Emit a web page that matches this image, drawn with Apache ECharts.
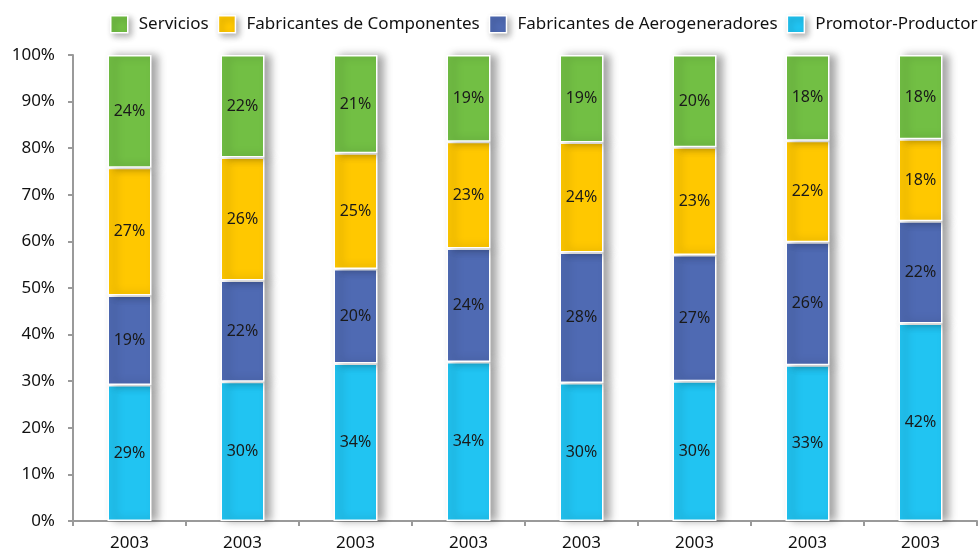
<!DOCTYPE html>
<html>
<head>
<meta charset="utf-8">
<script src="https://cdn.jsdelivr.net/npm/echarts@6/dist/echarts.min.js"></script>
<style>html,body{margin:0;padding:0;background:#fff;}#c{width:979px;height:552px;}</style>
</head>
<body>
<div id="c"></div>
<script>
var categories = ['2003','2003','2003','2003','2003','2003','2003','2003'];
var seriesNames = ['Servicios','Fabricantes de Componentes','Fabricantes de Aerogeneradores','Promotor-Productor'];
var promotor = [29.2, 29.9, 33.8, 34.1, 29.6, 30.0, 33.4, 42.4];
var aerogeneradores = [19.2, 21.7, 20.3, 24.4, 28.0, 27.1, 26.4, 21.9];
var componentes = [27.4, 26.4, 24.8, 22.9, 23.6, 23.1, 21.8, 17.6];
var servicios = [24.2, 22.0, 21.1, 18.6, 18.8, 19.8, 18.4, 18.1];
var yTicks = [0,10,20,30,40,50,60,70,80,90,100];

var FONT = '"Noto Sans", sans-serif';
var chart = echarts.init(document.getElementById('c'));
function mk(name, data, color) {
  return {
    name: name, type: 'bar', stack: 'total', data: data, barWidth: 44,
    itemStyle: { color: color, borderColor: '#ffffff', borderWidth: 1.5,
      shadowBlur: 8, shadowOffsetX: 6, shadowOffsetY: 0, shadowColor: 'rgba(0,0,0,0.35)' },
    label: { show: true, position: 'inside', color: '#1a1a1a', fontSize: 16, fontFamily: FONT,
      formatter: function (p) { return Math.round(p.value) + '%'; } },
    emphasis: { disabled: true }
  };
}
chart.setOption({
  animation: false,
  backgroundColor: '#ffffff',
  legend: {
    data: seriesNames, top: 15, left: 110, width: 1000, itemWidth: 17, itemHeight: 17, itemGap: 9,
    icon: 'rect', padding: 0,
    textStyle: { fontSize: 17, fontFamily: FONT, color: '#111', padding: [0, 0, 0, 6] },
    itemStyle: { borderColor: '#fff', borderWidth: 1.5, shadowBlur: 6, shadowOffsetX: 3, shadowOffsetY: 3, shadowColor: 'rgba(0,0,0,0.3)' }
  },
  grid: { left: 73, right: 2, top: 55, bottom: 31, containLabel: false },
  xAxis: {
    type: 'category', data: categories,
    axisLine: { lineStyle: { color: '#9a9a9a', width: 2 } },
    axisTick: { show: true, length: 5, lineStyle: { color: '#9a9a9a', width: 2 } },
    axisLabel: { fontSize: 17, fontFamily: FONT, color: '#111', margin: 14 }
  },
  yAxis: {
    type: 'value', min: 0, max: 100, interval: 10,
    axisLine: { show: true, lineStyle: { color: '#9a9a9a', width: 2 } },
    axisTick: { show: true, length: 5, lineStyle: { color: '#9a9a9a', width: 2 } },
    splitLine: { show: false },
    axisLabel: { fontSize: 17, fontFamily: FONT, color: '#111', margin: 18,
      formatter: function (v) { return yTicks.indexOf(v) >= 0 ? v + '%' : ''; } }
  },
  series: [
    mk(seriesNames[3], promotor, '#21C4F2'),
    mk(seriesNames[2], aerogeneradores, '#4F6AB3'),
    mk(seriesNames[1], componentes, '#FFC800'),
    mk(seriesNames[0], servicios, '#72BF44')
  ]
});
</script>
</body>
</html>
